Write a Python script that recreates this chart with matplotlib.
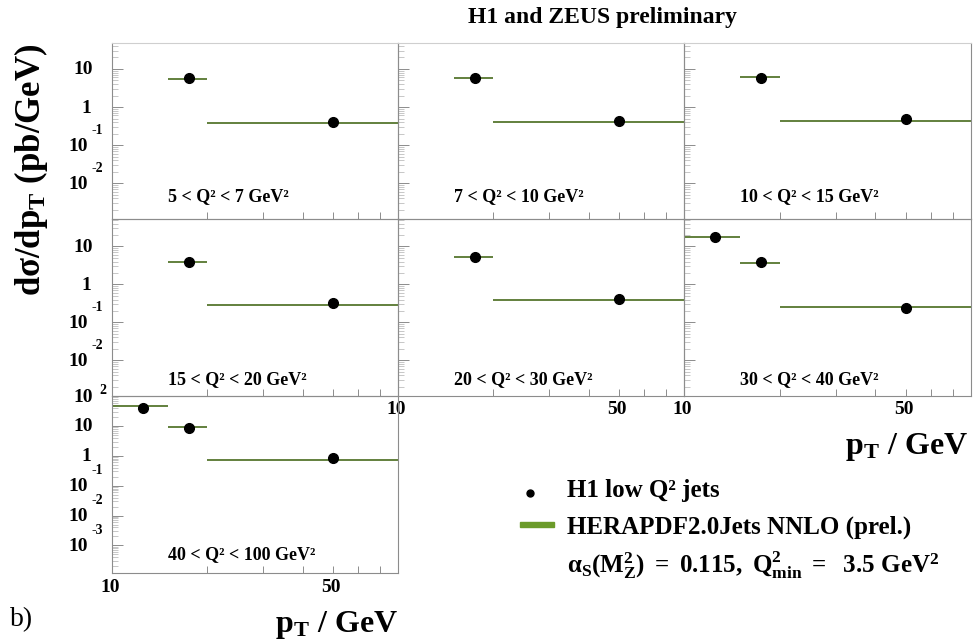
import math
import matplotlib
matplotlib.use('Agg')
import matplotlib.pyplot as plt
import matplotlib.transforms as mtransforms
from matplotlib.lines import Line2D
from matplotlib.patches import Rectangle
from matplotlib.ticker import FixedLocator, NullLocator, LogLocator

plt.rcParams['font.family'] = ['Liberation Serif', 'DejaVu Serif']
plt.rcParams['font.weight'] = 'bold'
plt.rcParams['mathtext.fontset'] = 'custom'
plt.rcParams['mathtext.rm'] = 'Liberation Serif:bold'
plt.rcParams['mathtext.it'] = 'Liberation Serif:italic:bold'
plt.rcParams['mathtext.bf'] = 'Liberation Serif:bold'

# pT binning (GeV) shared by all Q2 bins
pt_edges = [10, 15, 20, 80]
pt_centres = [12.5, 17.5, 50]

# Q2 bins (GeV^2)
q2_labels = [
    '5 < Q² < 7 GeV²',
    '7 < Q² < 10 GeV²',
    '10 < Q² < 15 GeV²',
    '15 < Q² < 20 GeV²',
    '20 < Q² < 30 GeV²',
    '30 < Q² < 40 GeV²',
    '40 < Q² < 100 GeV²',
]
# index of the first measured pT bin in each Q2 bin
first_bin = [1, 1, 1, 1, 1, 0, 0]

# dsigma/dpT (pb/GeV)
h1_xsec = [
    [5.7, 0.41],
    [5.9, 0.44],
    [5.7, 0.49],
    [4.0, 0.33],
    [5.2, 0.41],
    [17.3, 3.9, 0.243],
    [38.5, 8.8, 0.82],
]
nnlo_xsec = [
    [5.4, 0.376],
    [5.7, 0.40],
    [6.05, 0.42],
    [4.0, 0.28],
    [5.2, 0.38],
    [17.3, 3.6, 0.247],
    [45.0, 9.5, 0.74],
]

row_ylims = [(1.15e-3, 48), (1.15e-3, 53), (1.2e-4, 100)]
row_yticks = [[10, 1, 0.1, 0.01], [10, 1, 0.1, 0.01], [100, 10, 1, 0.1, 0.01, 0.001]]
label_base = [0.104, 0.068, 0.077]

W, H = 973, 643
fig = plt.figure(figsize=(W / 100, H / 100), dpi=100)

col_edges = [112, 398, 684, 971]
row_edges = [43, 219, 396, 573]
grid = [(0, 0), (0, 1), (0, 2), (1, 0), (1, 1), (1, 2), (2, 0)]
with_xlabels = [4, 5, 6]

frame_col = '#8c8c8c'
nnlo_col = '#56762e'
tick_fs = 14
exp_fs = 10


def tick_text(v):
    if v == 1:
        return '1', None
    if v == 10:
        return '10', None
    return '10', str(int(round(math.log10(v))))


for i, (r, c) in enumerate(grid):
    x0, x1 = col_edges[c], col_edges[c + 1]
    y0, y1 = row_edges[r], row_edges[r + 1]
    ax = fig.add_axes([x0 / W, 1 - y1 / H, (x1 - x0) / W, (y1 - y0) / H])
    ax.set_facecolor('none')
    ax.set_xscale('log')
    ax.set_yscale('log')
    ax.set_xlim(pt_edges[0], pt_edges[-1])
    ax.set_ylim(*row_ylims[r])

    ax.xaxis.set_major_locator(FixedLocator([20, 30, 40, 50, 60, 70]))
    ax.xaxis.set_minor_locator(NullLocator())
    ax.yaxis.set_major_locator(LogLocator(base=10))
    ax.yaxis.set_minor_locator(LogLocator(base=10, subs=range(2, 10)))
    ax.tick_params(axis='x', which='major', direction='in', length=5, width=0.7,
                   color=frame_col, labelbottom=False)
    ax.tick_params(axis='y', which='major', direction='in', length=8, width=0.7,
                   color=frame_col, labelleft=False)
    ax.tick_params(axis='y', which='minor', direction='in', length=4, width=0.5,
                   color='#b0b0b0', labelleft=False)
    for sp in ax.spines.values():
        sp.set_color(frame_col)
        sp.set_linewidth(0.8)
    if r == 0:
        ax.spines['top'].set_color('#cfcfcf')

    # NNLO prediction, one line per pT bin
    fb = first_bin[i]
    for j, val in enumerate(nnlo_xsec[i]):
        b = fb + j
        ax.hlines(val, pt_edges[b], pt_edges[b + 1], color=nnlo_col, lw=1.3, zorder=2)
    ax.plot(pt_centres[fb:], h1_xsec[i], 'o', color='black', ms=7, zorder=3)

    ax.text(0.196, label_base[r], q2_labels[i], transform=ax.transAxes,
            fontsize=13, ha='left', va='baseline')

    # ROOT-style y labels on the left column
    if c == 0:
        tr = mtransforms.blended_transform_factory(ax.transAxes, ax.transData)
        for v in row_yticks[r]:
            base, exp = tick_text(v)
            if exp is None:
                dx = -21 if base == '1' else -19
                ax.annotate(base, xy=(0, v), xycoords=tr, xytext=(dx, -1),
                            textcoords='offset pixels', ha='right', va='center',
                            fontsize=tick_fs, annotation_clip=False)
            elif exp.startswith('-'):
                ax.annotate(base, xy=(0, v), xycoords=tr, xytext=(-24, -1),
                            textcoords='offset pixels', ha='right', va='center',
                            fontsize=tick_fs, annotation_clip=False)
                ax.annotate(exp, xy=(0, v), xycoords=tr, xytext=(-20, 15),
                            textcoords='offset pixels', ha='left', va='center',
                            fontsize=exp_fs, annotation_clip=False)
            else:
                ax.annotate(base, xy=(0, v), xycoords=tr, xytext=(-19, -2),
                            textcoords='offset pixels', ha='right', va='center',
                            fontsize=tick_fs, annotation_clip=False)
                ax.annotate(exp, xy=(0, v), xycoords=tr, xytext=(-13, 5),
                            textcoords='offset pixels', ha='left', va='center',
                            fontsize=exp_fs, annotation_clip=False)

    if i in with_xlabels:
        tr = mtransforms.blended_transform_factory(ax.transData, ax.transAxes)
        for v in (10, 50):
            ax.annotate(str(v), xy=(v, 0), xycoords=tr, xytext=(-2, -14),
                        textcoords='offset pixels', ha='center', va='center',
                        fontsize=tick_fs, annotation_clip=False)

fig.text(602 / W, 1 - 18 / H, 'H1 and ZEUS preliminary', fontsize=17,
         ha='center', va='center')
fig.text(31 / W, 1 - 170 / H, r'$\mathrm{d\sigma/dp_T\ (pb/GeV)}$', rotation=90,
         fontsize=25, ha='center', va='center')
fig.text(968 / W, 1 - 447 / H, r'$\mathrm{p_T\ /\ GeV}$', fontsize=23,
         ha='right', va='center')
fig.text(398 / W, 1 - 625 / H, r'$\mathrm{p_T\ /\ GeV}$', fontsize=23,
         ha='right', va='center')
fig.text(10 / W, 1 - 620 / H, 'b)', fontsize=20, fontweight='normal',
         ha='left', va='center')

# legend
fig.add_artist(Line2D([530 / W], [1 - 493 / H], marker='o', ms=5, color='black',
                      transform=fig.transFigure))
fig.add_artist(Rectangle((520 / W, 1 - 527 / H), 34 / W, 5 / H, color='#6b9b2a',
                         transform=fig.transFigure))
fig.text(567 / W, 1 - 490 / H, 'H1 low Q² jets', fontsize=18,
         ha='left', va='center')
fig.text(567 / W, 1 - 527 / H, 'HERAPDF2.0Jets NNLO (prel.)', fontsize=18,
         ha='left', va='center')
fig.text(567 / W, 1 - 565 / H,
         r'$\mathrm{\alpha_S(M_Z^2)\ =\ 0.115,\ Q^2_{min}\ =\ \ 3.5\ GeV^2}$',
         fontsize=18, ha='left', va='center')

fig.savefig('out.png', dpi=100)
